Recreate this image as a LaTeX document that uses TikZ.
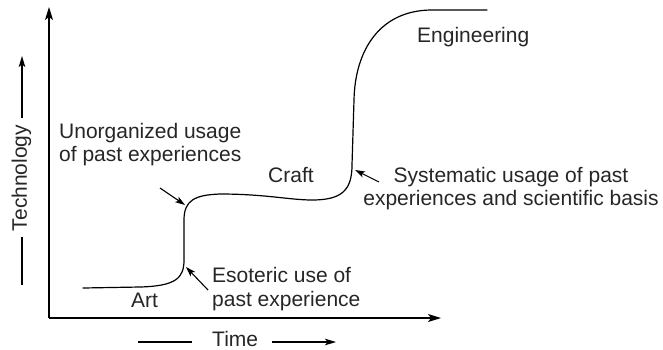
\documentclass[tikz,border=0pt]{standalone}
\usepackage{fontspec}
\setmainfont{Liberation Sans}
\usetikzlibrary{arrows.meta}
\begin{document}
\begin{tikzpicture}[x=1pt,y=-1pt,
  axis/.style={line width=1.4pt,-{Stealth[length=13pt,width=8pt,inset=3pt]}},
  curve/.style={line width=1.2pt,line cap=round},
  pointer/.style={line width=1.1pt,-{Stealth[length=10pt,width=6.5pt,inset=2.5pt]}},
  guide/.style={line width=1.1pt},
  guidearrow/.style={line width=1.1pt,-{Stealth[length=11pt,width=6.5pt,inset=2.5pt]}},
  lbl/.style={font=\fontsize{21}{23.5}\selectfont,inner sep=0pt,text=black!85}]
\useasboundingbox (0,0) rectangle (663,349);
% axes
\coordinate (O) at (49,318);
\coordinate (ytip) at (49,7);
\coordinate (xtip) at (441,318);
\draw[axis] (O) -- (ytip);
\draw[axis] (O) -- (xtip);
% axis labels
\node[lbl,rotate=90,anchor=base] (tech) at (27,178) {Technology};
\coordinate (tA) at (22,285); \coordinate (tB) at (22,237);
\coordinate (tC) at (22,118); \coordinate (tD) at (22,56);
\draw[guide] (tA) -- (tB);
\draw[guidearrow] (tC) -- (tD);
\node[lbl,anchor=base west] (time) at (212,346) {Time};
\coordinate (mA) at (138,342); \coordinate (mB) at (192,342);
\coordinate (mC) at (272,342); \coordinate (mD) at (336,342);
\draw[guide] (mA) -- (mB);
\draw[guidearrow] (mC) -- (mD);
% curve
\draw[curve] (83,288) -- (140,287)
  .. controls (176,286) and (184,278) .. (184,260)
  -- (184,220)
  .. controls (184,200) and (195,195) .. (220,194)
  .. controls (265,194) and (290,200) .. (312,200)
  .. controls (342,200) and (352,190) .. (352,165)
  -- (354,100)
  .. controls (355,50) and (380,10) .. (432,10)
  -- (487,10);
% stage labels
\node[lbl,anchor=base west] (art) at (131,307) {Art};
\node[lbl,anchor=base west] (craft) at (268,182) {Craft};
\node[lbl,anchor=base west] (eng) at (417,42) {Engineering};
% annotations (base anchor = baseline of last line)
\node[lbl,anchor=base west,align=left] (unorg) at (59,161.5) {Unorganized usage\\of past experiences};
\node[lbl,anchor=base west,align=left] (esot) at (212,306) {Esoteric use of\\past experience};
\node[lbl,anchor=base,align=center] (syst) at (511,205.5) {Systematic usage of past\\experiences and scientific basis};
\coordinate (uS) at (160,188); \coordinate (uT) at (185,205);
\coordinate (eS) at (208,290); \coordinate (eT) at (186,267);
\coordinate (sS) at (379,182); \coordinate (sT) at (355,170);
\draw[pointer] (uS) -- (uT);
\draw[pointer] (eS) -- (eT);
\draw[pointer] (sS) -- (sT);
\end{tikzpicture}
\end{document}
